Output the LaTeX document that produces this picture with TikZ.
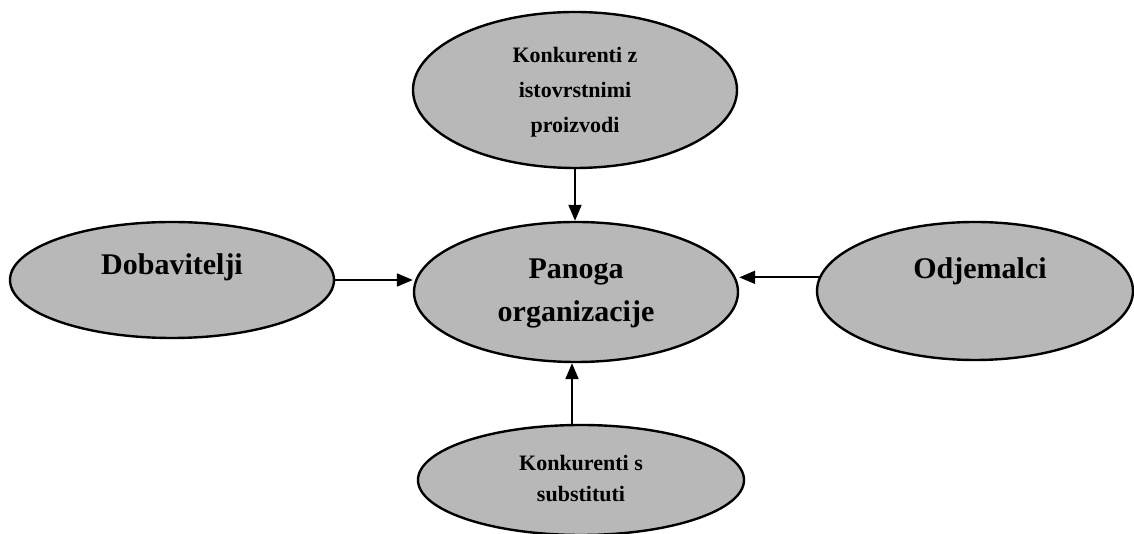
\documentclass[tikz,border=0pt]{standalone}
\usepackage{fontspec}
\setmainfont{Liberation Serif}
\usetikzlibrary{shapes.geometric,arrows.meta}
\tikzset{
  oval/.style={ellipse, draw=black, line width=2.4pt, fill=black!28, inner sep=0pt},
  bigtxt/.style={font=\bfseries\fontsize{30}{43}\selectfont, align=center},
  smalltxt/.style={font=\bfseries\fontsize{22}{35}\selectfont, align=center},
  conn/.style={line width=2pt, -{Triangle[length=16pt,width=13pt]}}
}
\begin{document}
\begin{tikzpicture}[x=1pt,y=1pt]
\useasboundingbox (0,0) rectangle (1134,534);
\node[oval, minimum width=324pt, minimum height=156pt,
  label={[smalltxt, yshift=-2pt]center:Konkurenti z\\istovrstnimi\\proizvodi}] (top) at (575,444) {};
\node[oval, minimum width=324pt, minimum height=140pt,
  label={[bigtxt, yshift=-1pt]center:Panoga\\organizacije}] (ctr) at (576,242) {};
\node[oval, minimum width=324pt, minimum height=116pt,
  label={[bigtxt, yshift=13pt]center:Dobavitelji}] (left) at (172,254) {};
\node[oval, minimum width=316pt, minimum height=138pt,
  label={[bigtxt, yshift=20pt, xshift=5pt]center:Odjemalci}] (right) at (975,243) {};
\node[oval, minimum width=326pt, minimum height=110pt,
  label={[smalltxt, font=\bfseries\fontsize{22}{31}\selectfont, yshift=1pt]center:Konkurenti s\\substituti}] (bot) at (581,54) {};
\draw[conn] (top.south) -- (top.south |- ctr.north);
\draw[conn] (left.east) -- (left.east -| ctr.west);
\draw[conn] (right.175) -- (right.175 -| ctr.east);
\coordinate (bn) at ([xshift=-9pt]bot.north);
\draw[conn] (bn) -- (bn |- ctr.south);
\end{tikzpicture}
\end{document}
